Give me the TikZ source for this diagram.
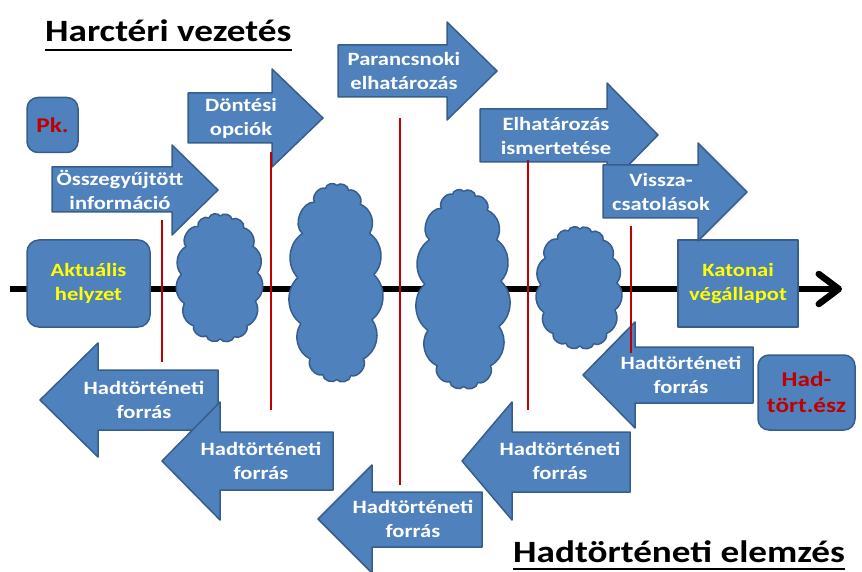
\documentclass[tikz,border=0pt]{standalone}
\usepackage{fontspec}
\setmainfont{Carlito}[FakeStretch=1.2]
\usetikzlibrary{arrows.meta}
\definecolor{boxblue}{HTML}{4F81BD}
\definecolor{edgeblue}{HTML}{385D8A}
\definecolor{darkred}{HTML}{C00000}
\definecolor{signyellow}{HTML}{FFFF00}

\begin{document}
\begin{tikzpicture}
  [ x=1pt, y=-1pt
  , blk/.style={fill=boxblue, draw=edgeblue, line width=1.5pt, line join=round}
  , lbl/.style={align=center, inner sep=0pt, font=\bfseries\fontsize{18.8}{24}\selectfont}
  , arrtext/.style={lbl, text=white}
  , state/.style={blk, lbl, text=signyellow, minimum width=123pt, minimum height=87pt}
  , who/.style={blk, align=center, text=darkred, rounded corners=11pt, font=\bfseries\fontsize{21}{26}\selectfont}
  , bump/.style={bend left=72}
  , flat/.style={bend left=50}
  , marker/.style={darkred, line width=1.6pt}
  , heading/.style={inner sep=0pt, anchor=base west, font=\bfseries\fontsize{31}{36}\selectfont}
  ]
  \useasboundingbox (0,0) rectangle (862,572);

  % time axis
  \coordinate (start) at (10,289);
  \coordinate (end)   at (842,289);
  \draw[line width=6.5pt, -{Straight Barb[length=20pt, width=30pt, round]}] (start) -- (end);

  % states
  \node[state, rounded corners=12pt] (now)  at (88.5,283.5) {Aktuális\\helyzet};
  \node[state, minimum width=120pt]  (goal) at (738,283.5)  {Katonai\\végállapot};

  \node[who, minimum width=51pt, minimum height=55pt] (cmd)  at (52.5,125)  {Pk.};
  \node[who, minimum width=97pt, minimum height=75pt] (hist) at (806.5,392.5) {Had-\\tört.ész};

  % clouds
  \foreach \cx/\cy/\hw/\hh in {219.5/277.5/39/62, 336/282.5/39/98, 463/289/39/98.5, 579/287.5/39/59}
    \draw[blk, shift={(\cx,\cy)}, x=\hw pt, y=-\hh pt]
      (-0.55,-0.82) to[bump] (-0.27,-0.96) to[bump] (0.02,-0.99) to[bump] (0.32,-0.94)
      to[bump] (0.62,-0.80) to[flat] (0.86,-0.50) to[flat] (0.97,-0.08) to[flat] (0.92,0.38)
      to[flat] (0.70,0.78) to[bump] (0.38,0.95) to[bump] (0.02,0.99) to[bump] (-0.34,0.94)
      to[bump] (-0.66,0.78) to[flat] (-0.90,0.42) to[flat] (-0.98,-0.05) to[flat] (-0.86,-0.50)
      to[bump] (-0.55,-0.82) -- cycle;

  % command chain
  \draw[blk] (52,167) -- (172,167) -- (172,145) -- (218,190) -- (172,235) -- (172,212) -- (52,212) -- cycle;
  \node[arrtext] (info) at (120,190) {Összegyűjtött\\információ};
  \draw[blk] (188,93) -- (272,93) -- (272,69) -- (323,118) -- (272,167) -- (272,143) -- (188,143) -- cycle;
  \node[arrtext] (opts) at (241,118) {Döntési\\opciók};
  \draw[blk] (338,45) -- (447,45) -- (447,22) -- (497,71) -- (447,120) -- (447,97) -- (338,97) -- cycle;
  \node[arrtext] (decide) at (404,71) {Parancsnoki\\elhatározás};
  \draw[blk] (480,109) -- (607,109) -- (607,83) -- (658,135) -- (607,187) -- (607,162) -- (480,162) -- cycle;
  \node[arrtext] (brief) at (556,136) {Elhatározás\\ismertetése};
  \draw[blk] (603,165) -- (698,165) -- (698,143) -- (747,192) -- (698,241) -- (698,218) -- (603,218) -- cycle;
  \node[arrtext] (feedback) at (661,192) {Vissza-\\csatolások};

  % sources
  \draw[blk] (218,370) -- (98,370) -- (98,343) -- (40,400) -- (98,457) -- (98,430) -- (218,430) -- cycle;
  \node[arrtext] (src1) at (144,400) {Hadtörténeti\\forrás};
  \draw[blk] (333,432) -- (220,432) -- (220,402) -- (162,461) -- (220,520) -- (220,490) -- (333,490) -- cycle;
  \node[arrtext] (src2) at (261,461) {Hadtörténeti\\forrás};
  \draw[blk] (482,492) -- (372,492) -- (372,465) -- (318,519) -- (372,573) -- (372,547) -- (482,547) -- cycle;
  \node[arrtext] (src3) at (413,519) {Hadtörténeti\\forrás};
  \draw[blk] (630,432) -- (512,432) -- (512,402) -- (462,461) -- (512,520) -- (512,492) -- (630,492) -- cycle;
  \node[arrtext] (src4) at (560,461) {Hadtörténeti\\forrás};
  \draw[blk] (753,347) -- (635,347) -- (635,322) -- (583,375) -- (635,428) -- (635,403) -- (753,403) -- cycle;
  \node[arrtext] (src5) at (681,375) {Hadtörténeti\\forrás};

  % phase markers
  \foreach \x/\top/\bot in {162/220/362, 271/152/410, 400/118/485, 528/160/410, 631/226/353}
    \draw[marker] (\x,\top) -- (\x,\bot);

  % headings
  \node[heading] (lead) at (45,42)  {Harctéri vezetés};
  \node[heading] (anal) at (513,562) {Hadtörténeti elemzés};
  \draw[line width=2pt] ([yshift=-8pt]lead.base west) -- ([yshift=-8pt]lead.base east);
  \draw[line width=2pt] ([yshift=-7pt]anal.base west) -- ([yshift=-7pt]anal.base east);

\end{tikzpicture}
\end{document}
